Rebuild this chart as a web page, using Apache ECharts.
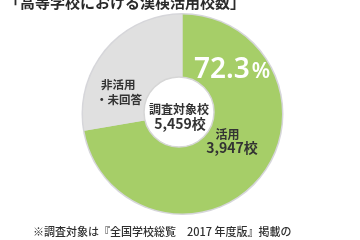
<!DOCTYPE html>
<html><head><meta charset="utf-8">
<script src="https://cdn.jsdelivr.net/npm/echarts@6/dist/echarts.min.js"></script>
<style>html,body{margin:0;padding:0;background:#fff}#c{width:360px;height:240px}</style>
</head><body><div id="c"></div>
<script>
const titleText = '「高等学校における漢検活用校数」';
const footnoteText = '※調査対象は『全国学校総覧　2017 年度版』掲載の';
const categories = ['活用', '非活用・未回答'];
const schoolCounts = [3947, 1512];
const totalLabel = '調査対象校';
const totalSchools = 5459;
const shareNumber = '72.3';
const sliceColors = ['#a6ce68', '#e0e0e0'];

const fmt = n => n.toLocaleString('en-US');
const jp = '"Noto Sans CJK JP", "Noto Sans", sans-serif';

const chart = echarts.init(document.getElementById('c'), null, {renderer: 'canvas'});
chart.setOption({
  animation: false,
  backgroundColor: '#fff',
  series: [
    {
      type: 'pie', silent: true, z: 1,
      center: [182.5, 114], radius: [0, 101],
      label: {show: false}, labelLine: {show: false},
      data: [{value: totalSchools, itemStyle: {color: '#d6d6da'}}]
    },
    {
      type: 'pie', silent: true, z: 2,
      center: [182.5, 114], radius: [0, 99.5],
      startAngle: 90, clockwise: true,
      label: {show: false}, labelLine: {show: false},
      itemStyle: {borderWidth: 0},
      data: categories.map((c, i) => ({name: c, value: schoolCounts[i], itemStyle: {color: sliceColors[i]}}))
    },
    {
      type: 'pie', silent: true, z: 3,
      center: [179, 112], radius: [0, 35],
      label: {show: false}, labelLine: {show: false},
      data: [{value: totalSchools, itemStyle: {color: '#ffffff', borderColor: '#d6d6d6', borderWidth: 1.5}}]
    }
  ],
  graphic: [
    {type: 'text', z: 10, style: {x: 5, y: 2, text: titleText, textVerticalAlign: 'middle', font: 'bold 15px ' + jp, fill: '#2a2a2a'}},
    {type: 'text', z: 10, style: {x: 33, y: 232, text: footnoteText, textVerticalAlign: 'middle', font: '500 11px ' + jp, fill: '#2f2f2f'}},
    {type: 'text', z: 10, style: {x: 194, y: 84, text: '{a|' + shareNumber + '}{b|%}', textVerticalAlign: 'bottom',
      rich: {a: {font: '600 28px "Noto Sans", sans-serif', fill: '#fff', verticalAlign: 'bottom', lineHeight: 28},
             b: {font: '600 21px "Noto Sans", sans-serif', fill: '#fff', verticalAlign: 'bottom', lineHeight: 28, padding: [0,0,1,2]}}}},
    {type: 'text', z: 10, style: {x: 101, y: 85, text: categories[1].split('・')[0], textVerticalAlign: 'middle', font: 'bold 11.5px ' + jp, fill: '#333'}},
    {type: 'text', z: 10, style: {x: 96, y: 100, text: '・' + categories[1].split('・')[1], textVerticalAlign: 'middle', font: 'bold 11.5px ' + jp, fill: '#333'}},
    {type: 'text', z: 10, style: {x: 179, y: 109, text: totalLabel, textAlign: 'center', textVerticalAlign: 'middle', font: 'bold 12px ' + jp, fill: '#333'}},
    {type: 'text', z: 10, style: {x: 180, y: 124, text: fmt(totalSchools) + '校', textAlign: 'center', textVerticalAlign: 'middle', font: 'bold 14px ' + jp, fill: '#333'}},
    {type: 'text', z: 10, style: {x: 227.5, y: 134, text: categories[0], textAlign: 'center', textVerticalAlign: 'middle', font: 'bold 12px ' + jp, fill: '#333'}},
    {type: 'text', z: 10, style: {x: 232, y: 148, text: fmt(schoolCounts[0]) + '校', textAlign: 'center', textVerticalAlign: 'middle', font: 'bold 14px ' + jp, fill: '#333'}}
  ]
});
</script></body></html>
